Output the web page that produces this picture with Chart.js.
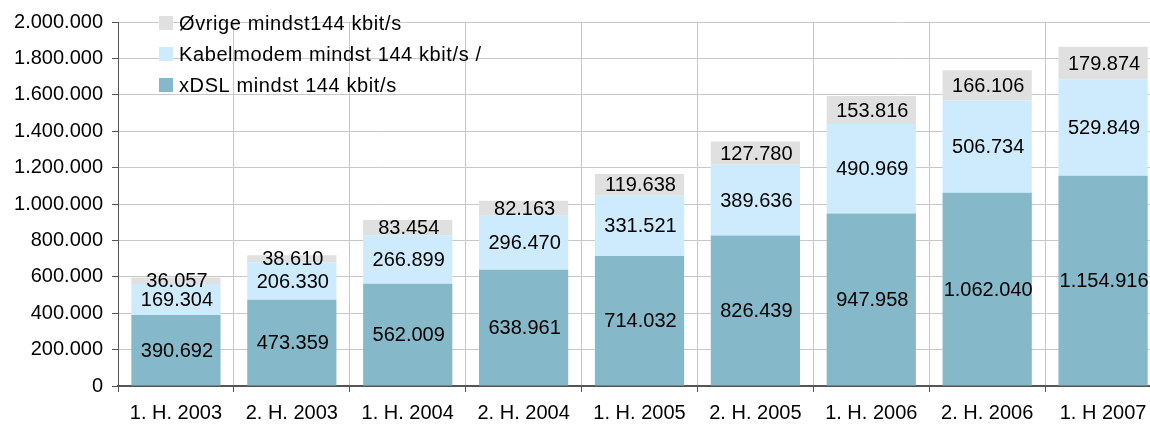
<!DOCTYPE html>
<html lang="no">
<head>
  <meta charset="UTF-8">
  <title>Bredbånd</title>
  <script src="https://cdn.jsdelivr.net/npm/chart.js"></script>
  <style>
    html, body { margin: 0; background: #fff; overflow: hidden; }
    /* plot runs a little past the right edge, like the cropped original */
    #wrap { width: 1162px; height: 427px; }
  </style>
</head>
<body>
  <div id="wrap"><canvas id="chart"></canvas></div>
  <script>
    const categories = ['1. H. 2003', '2. H. 2003', '1. H. 2004', '2. H. 2004', '1. H. 2005', '2. H. 2005', '1. H. 2006', '2. H. 2006', '1. H 2007'];
    const xdsl = [390692, 473359, 562009, 638961, 714032, 826439, 947958, 1062040, 1154916];
    const kabel = [169304, 206330, 266899, 296470, 331521, 389636, 490969, 506734, 529849];
    const ovrige = [36057, 38610, 83454, 82163, 119638, 127780, 153816, 166106, 179874];
    const seriesNames = ['xDSL mindst 144 kbit/s', 'Kabelmodem mindst 144 kbit/s /', 'Øvrige mindst144 kbit/s'];

    const FONT = 'Arial, "Liberation Sans", sans-serif';

    function fmt(v) {
      return String(v).replace(/\B(?=(\d{3})+(?!\d))/g, '.');
    }

    // labels centered in each segment
    const segLabels = {
      id: 'segLabels',
      afterDatasetsDraw(chart) {
        const ctx = chart.ctx;
        ctx.save();
        ctx.font = '20px ' + FONT;
        ctx.fillStyle = '#000';
        ctx.textAlign = 'center';
        ctx.textBaseline = 'middle';
        chart.data.datasets.forEach((ds, i) => {
          chart.getDatasetMeta(i).data.forEach((bar, j) => {
            const y = (bar.y + bar.base) / 2;
            ctx.fillText(fmt(ds.data[j]), bar.x + 1, y + 1);
          });
        });
        ctx.restore();
      }
    };

    // legend inside plot area, top-left
    const innerLegend = {
      id: 'innerLegend',
      afterDraw(chart) {
        const ctx = chart.ctx;
        const ds = chart.data.datasets;
        ctx.save();
        ctx.font = '20px ' + FONT;
        ctx.letterSpacing = '0.6px';
        ctx.textBaseline = 'middle';
        [2, 1, 0].forEach((idx, r) => {
          const y = 23 + r * 31;
          ctx.fillStyle = ds[idx].backgroundColor;
          ctx.fillRect(159, y - 7, 14, 14);
          ctx.fillStyle = '#000';
          ctx.fillText(ds[idx].label, 179, y + 1);
        });
        ctx.restore();
      }
    };

    new Chart(document.getElementById('chart'), {
      type: 'bar',
      data: {
        labels: categories,
        datasets: [
          { label: seriesNames[0], data: xdsl, backgroundColor: '#85b8c8' },
          { label: seriesNames[1], data: kabel, backgroundColor: '#cdebfc' },
          { label: seriesNames[2], data: ovrige, backgroundColor: '#e0e0e0' }
        ]
      },
      options: {
        responsive: true,
        maintainAspectRatio: false,
        animation: false,
        layout: { padding: { top: 22, right: 1, left: 0, bottom: 0 } },
        plugins: {
          legend: { display: false },
          tooltip: { enabled: false }
        },
        datasets: {
          bar: { categoryPercentage: 0.77, barPercentage: 1 }
        },
        scales: {
          x: {
            stacked: true,
            offset: true,
            afterFit(scale) { scale.height = 41; },
            grid: {
              offset: true,
              color: '#c8c8c8',
              tickLength: 6,
              tickColor: '#555'
            },
            border: { color: '#555', width: 2 },
            ticks: { color: '#000', font: { family: FONT, size: 20 }, padding: 9, maxRotation: 0 }
          },
          y: {
            stacked: true,
            min: 0,
            max: 2000000,
            afterFit(scale) { scale.width = 118; },
            grid: { color: '#c8c8c8', tickLength: 6, tickColor: '#555' },
            border: { color: '#555', width: 1 },
            ticks: {
              stepSize: 200000,
              color: '#000',
              padding: 9,
              font: { family: FONT, size: 20 },
              callback: v => fmt(v)
            }
          }
        }
      },
      plugins: [segLabels, innerLegend]
    });
  </script>
</body>
</html>
